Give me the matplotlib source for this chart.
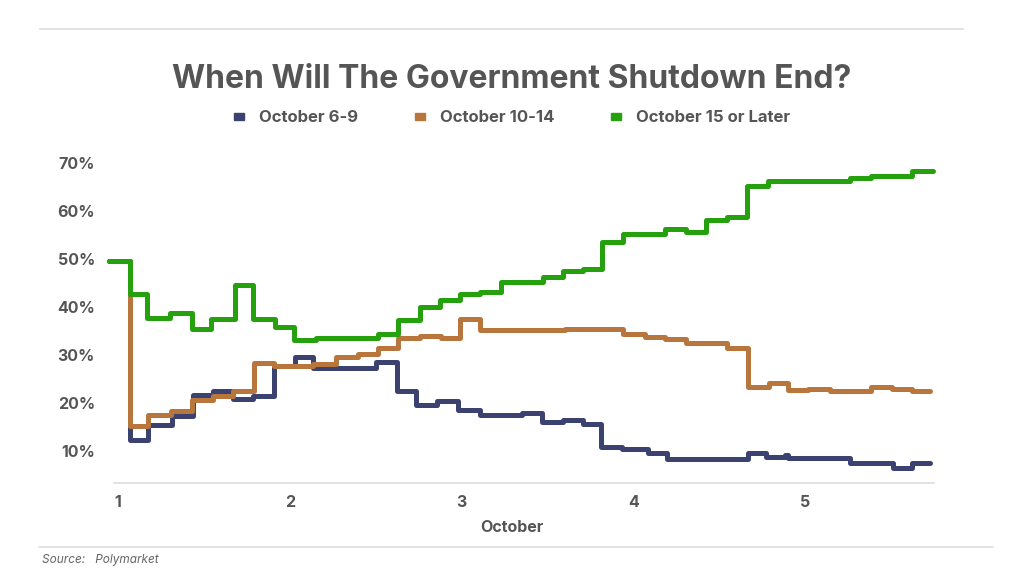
import matplotlib.pyplot as plt
from matplotlib.patches import Patch

# step series: (day of October, probability %)
blue_t = [0.948, 1.070, 1.175, 1.314, 1.437, 1.553, 1.669, 1.786, 1.908, 2.030,
          2.135, 2.502, 2.624, 2.735, 2.857, 2.979, 3.107, 3.352, 3.468, 3.590,
          3.707, 3.811, 3.933, 4.085, 4.196, 4.667, 4.770, 4.882, 4.900, 5.261,
          5.511, 5.622, 5.727]
blue_v = [49.6, 12.3, 15.4, 17.3, 21.7, 22.4, 20.8, 21.5, 27.7, 29.6,
          27.3, 28.5, 22.5, 19.6, 20.5, 18.5, 17.5, 18.0, 16.0, 16.5,
          15.6, 10.8, 10.5, 9.5, 8.4, 9.5, 8.7, 9.2, 8.5, 7.4,
          6.4, 7.5, 7.5]

orange_t = [0.948, 1.070, 1.175, 1.308, 1.431, 1.553, 1.669, 1.792, 1.908, 2.135,
            2.269, 2.397, 2.513, 2.630, 2.758, 2.880, 2.991, 3.107, 3.600, 3.939,
            4.067, 4.184, 4.306, 4.545, 4.667, 4.789, 4.900, 5.016, 5.144, 5.383,
            5.505, 5.622, 5.727]
orange_v = [49.6, 15.2, 17.5, 18.4, 20.6, 21.5, 22.4, 28.4, 27.7, 28.1,
            29.5, 30.3, 31.4, 33.5, 34.0, 33.5, 37.4, 35.3, 35.5, 34.4,
            33.8, 33.3, 32.4, 31.4, 23.3, 24.1, 22.7, 23.0, 22.4, 23.4,
            22.9, 22.5, 22.5]

green_t = [0.948, 1.070, 1.169, 1.303, 1.431, 1.541, 1.681, 1.786, 1.914, 2.024,
           2.153, 2.513, 2.630, 2.758, 2.874, 2.991, 3.107, 3.229, 3.474, 3.590,
           3.707, 3.817, 3.939, 4.184, 4.306, 4.423, 4.545, 4.661, 4.784, 5.261,
           5.383, 5.622, 5.744]
green_v = [49.6, 42.7, 37.8, 38.7, 35.4, 37.5, 44.6, 37.5, 35.8, 33.1,
           33.5, 34.3, 37.3, 39.9, 41.5, 42.6, 43.1, 45.3, 46.3, 47.4,
           47.9, 53.6, 55.3, 56.3, 55.7, 58.1, 58.8, 65.2, 66.2, 66.8,
           67.3, 68.3, 68.3]

labels = ["October 6-9", "October 10-14", "October 15 or Later"]
colors = ["#3b4270", "#b8763c", "#25a10d"]
x_ticks = [1, 2, 3, 4, 5]
y_ticks = [10, 20, 30, 40, 50, 60, 70]

grey = "#555555"
plt.rcParams["font.family"] = ["Inter", "DejaVu Sans"]

fig = plt.figure(figsize=(10.24, 5.76), dpi=100)
ax = fig.add_axes([109 / 1024, 0.1615, 825 / 1024, 0.5722])

for t, v, c in zip([blue_t, orange_t, green_t], [blue_v, orange_v, green_v], colors):
    ax.plot(t, v, drawstyle="steps-post", color=c, lw=3.6,
            solid_joinstyle="round", solid_capstyle="round", clip_on=False)

ax.set_xlim(0.948, 5.75)
ax.set_ylim(3.33, 72)
ax.set_xticks(x_ticks)
ax.set_xticklabels([str(x) for x in x_ticks])
ax.set_yticks(y_ticks)
ax.set_yticklabels([f"{y}%" for y in y_ticks])
ax.tick_params(length=0, labelsize=11.5, colors=grey)
ax.tick_params(axis="y", pad=10)
ax.tick_params(axis="x", pad=9)
for lab in ax.get_xticklabels() + ax.get_yticklabels():
    lab.set_fontweight("bold")
for s in ["top", "right", "left"]:
    ax.spines[s].set_visible(False)
ax.spines["bottom"].set_color("#dddddd")
ax.spines["bottom"].set_linewidth(1.2)
ax.spines["bottom"].set_bounds(0.977, 5.75)

fig.text(0.5, 1 - 527 / 576, "October", ha="center", va="center",
         fontsize=11.5, fontweight="bold", color=grey)
fig.text(0.5, 1 - 79 / 576, "When Will The Government Shutdown End?",
         ha="center", va="center", fontsize=23, fontweight="bold", color=grey)

handles = [Patch(color=c) for c in colors]
fig.legend(handles, labels, loc="center", bbox_to_anchor=(0.5, 1 - 118 / 576),
           ncol=3, frameon=False, handlelength=0.6, handleheight=0.35,
           handletextpad=0.9, columnspacing=3.4,
           prop={"size": 12, "weight": "bold"}, labelcolor=grey)

fig.add_artist(plt.Line2D([40 / 1024, 963 / 1024], [1 - 29 / 576] * 2,
                          color="#dddddd", lw=1.2))
fig.add_artist(plt.Line2D([39 / 1024, 993 / 1024], [1 - 547 / 576] * 2,
                          color="#dddddd", lw=1.2))
fig.text(42 / 1024, 1 - 560 / 576, "Source:   Polymarket", ha="left", va="center",
         fontsize=8.5, style="italic", color="#666666")

fig.savefig("out.png", dpi=100)
